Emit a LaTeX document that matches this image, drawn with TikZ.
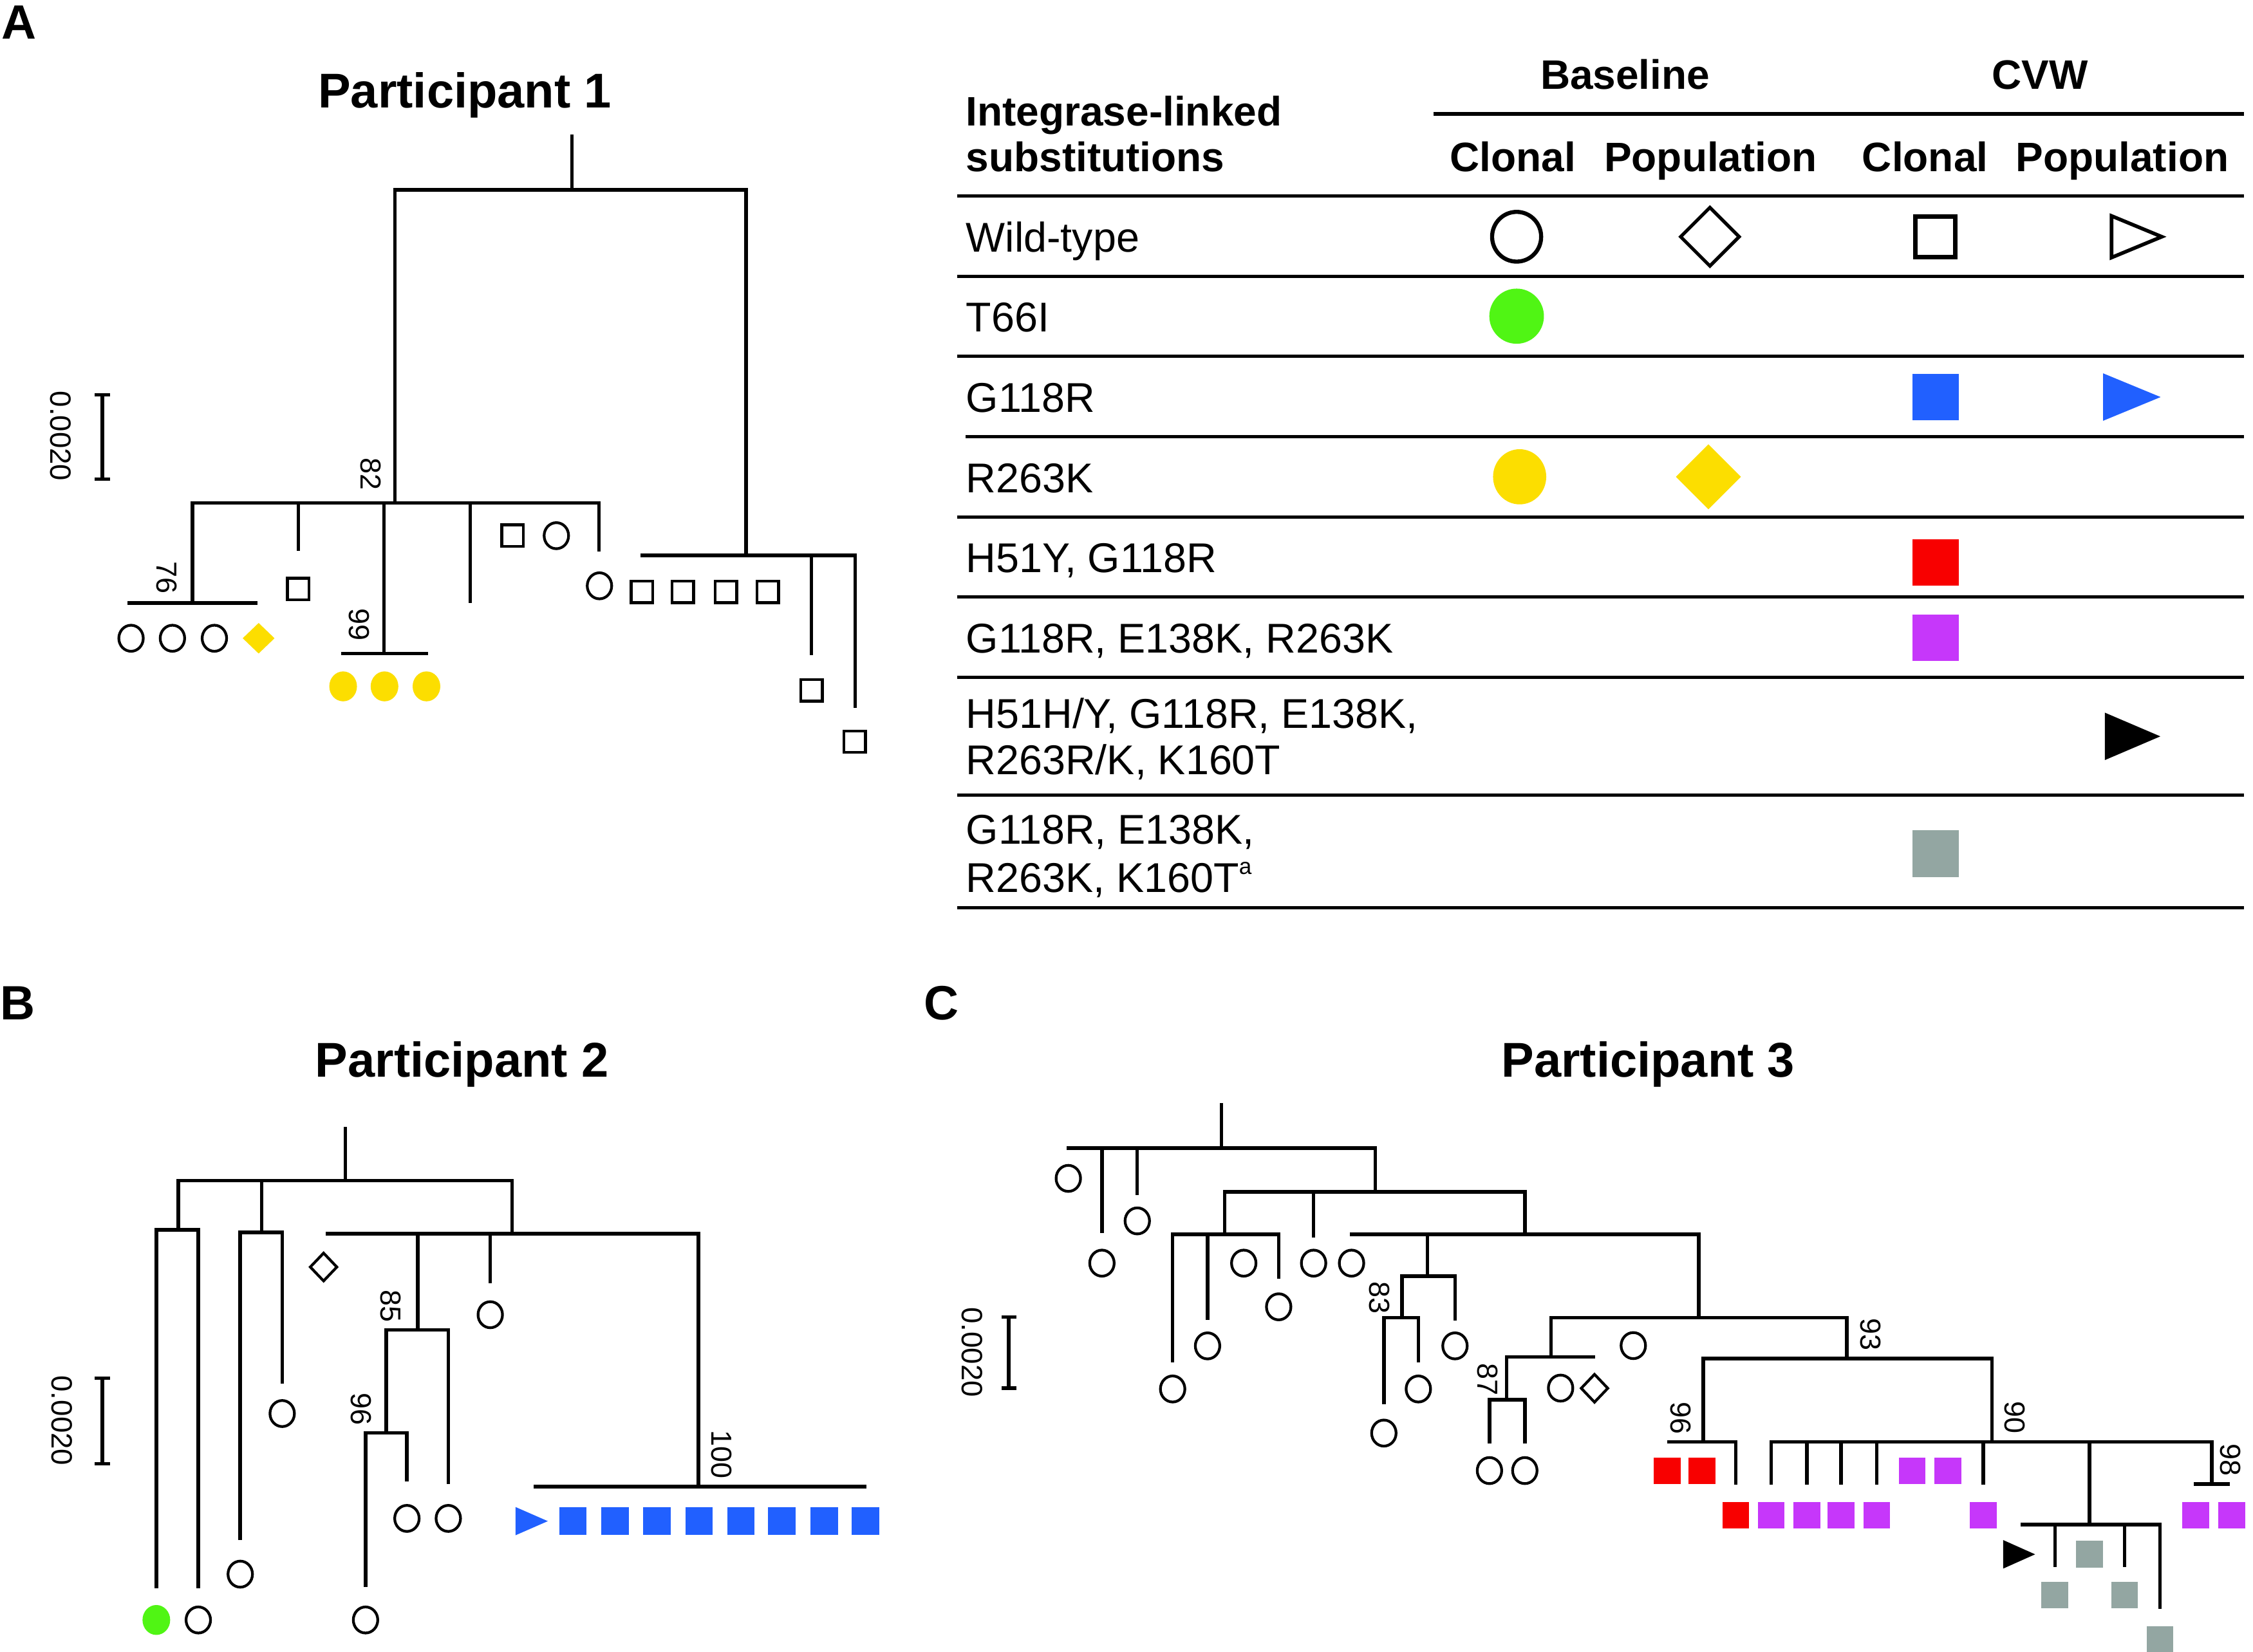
\documentclass[tikz,border=0pt]{standalone}
\usepackage{fontspec}
\setmainfont{Liberation Sans}
\usetikzlibrary{shapes.geometric}
\definecolor{cgreen}{RGB}{80,245,20}
\definecolor{cyellow}{RGB}{252,222,0}
\definecolor{cblue}{RGB}{33,96,255}
\definecolor{cred}{RGB}{248,0,0}
\definecolor{cpurple}{RGB}{198,55,250}
\definecolor{cgrey}{RGB}{147,166,162}
\newcommand\mytri[5]{\path[#5] (#1-#3/2,#2-#4/2) -- (#1+#3/2,#2) -- (#1-#3/2,#2+#4/2) -- cycle;}
\begin{document}
\begin{tikzpicture}[x=0.02232cm,y=-0.02232cm,
  br/.style={line width=1.55pt, line cap=rect},
  rl/.style={line width=1.55pt},
  oc/.style={ellipse, draw, line width=1.2pt, minimum width=0.38cm, minimum height=0.405cm, inner sep=0pt},
  fc/.style={ellipse, fill=#1, minimum width=0.43cm, minimum height=0.465cm, inner sep=0pt},
  osq/.style={rectangle, draw, line width=1.25pt, minimum width=0.335cm, minimum height=0.335cm, inner sep=0pt},
  fsq/.style={rectangle, fill=#1, minimum size=0.424cm, inner sep=0pt},
  od/.style={diamond, draw, line width=1.2pt, minimum width=0.43cm, minimum height=0.45cm, inner sep=0pt},
  fd/.style={diamond, fill=#1, minimum width=0.50cm, minimum height=0.48cm, inner sep=0pt},
  boot/.style={rotate=-90, inner sep=0pt, font=\fontsize{12.8}{15}\selectfont},
  sbl/.style={rotate=-90, inner sep=0pt, font=\fontsize{13}{15}\selectfont},
  ttl/.style={anchor=base, inner sep=0pt, font=\fontsize{21.6}{26}\selectfont\bfseries},
  pl/.style={anchor=base west, inner sep=0pt, font=\fontsize{21.3}{26}\selectfont\bfseries},
  th/.style={anchor=base, inner sep=0pt, font=\fontsize{18.2}{22}\selectfont\bfseries},
  thl/.style={anchor=base west, inner sep=0pt, font=\fontsize{18.2}{22}\selectfont\bfseries},
  tb/.style={anchor=base west, inner sep=0pt, font=\fontsize{18.4}{22}\selectfont},
  tsym/.style={inner sep=0pt}]
\useasboundingbox (0,0) rectangle (1568,1150);
\fill[white] (0,0) rectangle (1568,1150);

% panel labels and titles
\node[pl] (lA) at (1,27) {A};
\node[pl] (lB) at (0,710) {B};
\node[pl] (lC) at (643,710) {C};
\node[ttl] (t1) at (323.5,75) {Participant 1};
\node[ttl] (t2) at (321.5,749.8) {Participant 2};
\node[ttl] (t3) at (1147,749.8) {Participant 3};

% ================= TABLE =================
\node[th] (hbase) at (1131,62.2) {Baseline};
\node[th] (hcvw) at (1419.8,62.2) {CVW};
\node[thl] (hint1) at (672,87.5) {Integrase-linked};
\node[thl] (hint2) at (672,119.3) {substitutions};
\node[th] (hc1) at (1053,119.3) {Clonal};
\node[th] (hp1) at (1190.5,119.3) {Population};
\node[th] (hc2) at (1339.8,119.3) {Clonal};
\node[th] (hp2) at (1477,119.3) {Population};
\draw[rl] (997.5,79.3) -- (1561.5,79.3);
\foreach \yy in {136.5,192.5,248,360,415.6,471.6,553.4,632}{\draw[rl] (666,\yy) -- (1561.5,\yy);}
\draw[rl] (672,304) -- (1561.5,304);

\node[tb] (r1) at (672,175.6) {Wild-type};
\node[tb] (r2) at (672,230.9) {T66I};
\node[tb] (r3) at (672,286.9) {G118R};
\node[tb] (r4) at (672,342.9) {R263K};
\node[tb] (r5) at (672,398.6) {H51Y, G118R};
\node[tb] (r6) at (672,454.4) {G118R, E138K, R263K};
\node[tb] (r7a) at (672,507) {H51H/Y, G118R, E138K,};
\node[tb] (r7b) at (672,539) {R263R/K, K160T};
\node[tb] (r8a) at (672,587.6) {G118R, E138K,};
\node[tb] (r8b) at (672,621) {R263K, K160T\raisebox{0.43em}{\fontsize{10}{12}\selectfont a}};

\node[tsym, ellipse, draw, line width=1.8pt, minimum width=0.762cm, minimum height=0.773cm] (wtc) at (1055.5,164.8) {};
\node[tsym, diamond, draw, line width=1.5pt, minimum width=0.93cm, minimum height=0.93cm] (wtd) at (1190,164.8) {};
\node[tsym, rectangle, draw, line width=2pt, minimum width=0.62cm, minimum height=0.63cm] (wts) at (1347,164.8) {};
\mytri{1487}{164.8}{35}{29}{draw,line width=1.6pt}
\node[tsym, ellipse, fill=cgreen, minimum width=0.848cm, minimum height=0.857cm] (sgreen) at (1055.5,220.1) {};
\node[fsq=cblue, minimum size=0.723cm] (sblue) at (1347,276.4) {};
\mytri{1483.7}{276.4}{40}{33}{fill=cblue}
\node[tsym, ellipse, fill=cyellow, minimum width=0.826cm, minimum height=0.857cm] (syc) at (1057.6,331.9) {};
\node[tsym, diamond, fill=cyellow, minimum width=1.015cm, minimum height=1.015cm] (syd) at (1189,331.9) {};
\node[fsq=cred, minimum size=0.723cm] (sred) at (1347,391.4) {};
\node[fsq=cpurple, minimum size=0.723cm] (spur) at (1347,444) {};
\mytri{1484.2}{512.6}{38.6}{33}{fill=black}
\node[fsq=cgrey, minimum size=0.723cm] (sgrey) at (1347,594.2) {};

% ================= PARTICIPANT 1 =================
\draw[br] (398,94.9) -- (398,132.1);
\draw[br] (274.8,350.1) -- (274.8,132.1) -- (519.2,132.1) -- (519.2,386.6);
\draw[br] (134,419.8) -- (134,350.1) -- (416.8,350.1) -- (416.8,382.6);
\draw[br] (207.6,350.1) -- (207.6,382.1);
\draw[br] (267.2,350.1) -- (267.2,454.9);
\draw[br] (327.2,350.1) -- (327.2,418.6);
\draw[br] (90,419.8) -- (178,419.8);
\draw[br] (238.8,454.9) -- (296.8,454.9);
\draw[br] (446.8,386.6) -- (595.2,386.6) -- (595.2,491.5);
\draw[br] (564.8,386.6) -- (564.8,454.9);
\node[boot] (b82) at (258,329.8) {82};
\node[boot] (b76) at (116,402.1) {76};
\node[boot] (b99) at (250,434.9) {99};
\draw[br] (71.2,274.9) -- (71.2,333.5);
\draw[br] (67.2,274.9) -- (75.2,274.9);
\draw[br] (67.2,333.5) -- (75.2,333.5);
\node[sbl] (s1) at (42,303.5) {0.0020};
\node[oc] (a1) at (91.2,444.3) {};
\node[oc] (a2) at (120,444.3) {};
\node[oc] (a3) at (149.2,444.3) {};
\node[fd=cyellow] (a4) at (180,444.3) {};
\node[osq] (a5) at (207.6,410.1) {};
\node[fc=cyellow] (a6) at (238.8,477.8) {};
\node[fc=cyellow] (a7) at (267.6,477.8) {};
\node[fc=cyellow] (a8) at (296.8,477.8) {};
\node[osq] (a9) at (356.8,372.9) {};
\node[oc] (a10) at (387.2,372.9) {};
\node[oc] (a11) at (417.2,407.8) {};
\node[osq] (a12) at (446.8,412) {};
\node[osq] (a13) at (475.2,412) {};
\node[osq] (a14) at (505.2,412) {};
\node[osq] (a15) at (534.4,412) {};
\node[osq] (a16) at (564.8,480.6) {};
\node[osq] (a17) at (594.8,516.3) {};

% ================= PARTICIPANT 2 =================
\draw[br] (240.4,785.5) -- (240.4,821.8);
\draw[br] (124,856.2) -- (124,821.8) -- (356.4,821.8) -- (356.4,858.7);
\draw[br] (182,821.8) -- (182,858);
\draw[br] (108.8,1104.5) -- (108.8,856.2) -- (138,856.2) -- (138,1104.5);
\draw[br] (167.2,1070.7) -- (167.2,858) -- (196.4,858) -- (196.4,961.9);
\draw[br] (228,858.7) -- (486,858.7) -- (486,1034.9);
\draw[br] (290.8,858.7) -- (290.8,925.8);
\draw[br] (341.2,858.7) -- (341.2,891.9);
\draw[br] (372.4,1034.9) -- (602,1034.9);
\draw[br] (268.8,997.5) -- (268.8,925.8) -- (312,925.8) -- (312,1031.9);
\draw[br] (254.4,1103.7) -- (254.4,997.5) -- (283.2,997.5) -- (283.2,1030.2);
\node[boot] (b85) at (272,909.1) {85};
\node[boot] (b96a) at (251.2,981.1) {96};
\node[boot] (b100) at (502,1012.3) {100};
\draw[br] (71.2,959.4) -- (71.2,1018.9);
\draw[br] (67.2,959.4) -- (75.2,959.4);
\draw[br] (67.2,1018.9) -- (75.2,1018.9);
\node[sbl] (s2) at (43.2,988.9) {0.0020};
\node[fc=cgreen] (c1) at (108.8,1127.7) {};
\node[oc] (c2) at (138,1127.7) {};
\node[oc] (c3) at (196.4,984) {};
\node[oc] (c4) at (167.2,1095.8) {};
\node[od] (c5) at (225.2,882) {};
\node[oc] (c6) at (341.2,915.2) {};
\mytri{370}{1058.9}{22.5}{19.7}{fill=cblue}
\foreach \xx [count=\i] in {398.8,428,457.2,486.4,515.6,544,573.6,602.4}{\node[fsq=cblue] (cb\i) at (\xx,1058.9) {};}
\node[oc] (c7) at (283.2,1057) {};
\node[oc] (c8) at (312,1057) {};
\node[oc] (c9) at (254.4,1127.7) {};

% ================= PARTICIPANT 3 =================
\draw[br] (850,769.3) -- (850,799.3);
\draw[br] (743.5,799.3) -- (957.1,799.3) -- (957.1,829.7);
\draw[br] (766.9,799.3) -- (766.9,857.3);
\draw[br] (791.5,799.3) -- (791.5,830.9);
\draw[br] (852.4,859.3) -- (852.4,829.7) -- (1061.2,829.7) -- (1061.2,859.3);
\draw[br] (914.2,829.7) -- (914.2,860.3);
\draw[br] (816.1,947.3) -- (816.1,859.3) -- (889.9,859.3) -- (889.9,888.9);
\draw[br] (840.4,859.3) -- (840.4,917.7);
\draw[br] (940.6,859.3) -- (1182.3,859.3) -- (1182.3,917.3);
\draw[br] (993.4,859.3) -- (993.4,888.3);
\draw[br] (975.7,917.3) -- (975.7,888.3) -- (1012.6,888.3) -- (1012.6,917.9);
\draw[br] (963.1,976.3) -- (963.1,917.3) -- (987.1,917.3) -- (987.1,947.3);
\draw[br] (1079.5,944.7) -- (1079.5,917.3) -- (1285.2,917.3) -- (1285.2,945.7);
\draw[br] (1048.6,974.3) -- (1048.6,944.7) -- (1109.1,944.7);
\draw[br] (1036.6,1003.7) -- (1036.6,974.3) -- (1061.2,974.3) -- (1061.2,1003.7);
\draw[br] (1185.3,1003.8) -- (1185.3,945.7) -- (1386.3,945.7) -- (1386.3,1003.8);
\draw[br] (1161.3,1003.8) -- (1208.1,1003.8) -- (1208.1,1032.1);
\draw[br] (1232.7,1032.2) -- (1232.7,1003.8) -- (1539.3,1003.8) -- (1539.3,1033.1);
\foreach \xx in {1257.6,1281.3,1306.2,1380.3}{\draw[br] (\xx,1003.8) -- (\xx,1032.2);}
\draw[br] (1454.1,1003.8) -- (1454.1,1061.2);
\draw[br] (1407.3,1061.2) -- (1503.3,1061.2) -- (1503.3,1118.8);
\draw[br] (1430.1,1061.2) -- (1430.1,1089.5);
\draw[br] (1478.7,1061.2) -- (1478.7,1089.5);
\draw[br] (1528.2,1033.1) -- (1550.7,1033.1);
\node[boot] (b83) at (960.1,903.3) {83};
\node[boot] (b87) at (1035.1,960.3) {87};
\node[boot] (b93) at (1301.7,928.8) {93};
\node[boot] (b96b) at (1169.7,987.2) {96};
\node[boot] (b90) at (1402.2,986.7) {90};
\node[boot] (b98) at (1552.2,1016.4) {98};
\draw[br] (702.1,916.9) -- (702.1,966.3);
\draw[br] (698.1,916.9) -- (706.1,916.9);
\draw[br] (698.1,966.3) -- (706.1,966.3);
\node[sbl] (s3) at (676.6,941.3) {0.0020};
\foreach \xx/\yy [count=\i] in {743.5/820.3,791.5/849.9,766.9/879.3,865.6/879.3,889.9/909.7,840.4/936.9,816.1/966.9,914.2/879.3,940.6/879.3,1012.6/936.9,987.1/966.9,963.1/997.6,1036.6/1023.7,1061.2/1023.7,1086.1/966.3,1136.7/936.7}{\node[oc] (e\i) at (\xx,\yy) {};}
\node[od] (ed) at (1109.7,966.4) {};
\foreach \xx/\yy [count=\i] in {1160.4/1023.8,1184.4/1023.8,1208.1/1054.7}{\node[fsq=cred, minimum size=0.415cm] (er\i) at (\xx,\yy) {};}
\foreach \xx/\yy [count=\i] in {1232.7/1054.7,1257.6/1054.7,1281.3/1054.7,1306.2/1054.7,1380.3/1054.7,1330.8/1023.8,1355.7/1023.8,1528.2/1054.7,1553.1/1054.7}{\node[fsq=cpurple, minimum size=0.415cm] (ep\i) at (\xx,\yy) {};}
\mytri{1405.2}{1082}{22.3}{19.9}{fill=black}
\foreach \xx/\yy [count=\i] in {1454.1/1082,1430.1/1110.3,1478.7/1110.3,1503.3/1141.2}{\node[fsq=cgrey, minimum size=0.415cm] (eg\i) at (\xx,\yy) {};}
\end{tikzpicture}
\end{document}
